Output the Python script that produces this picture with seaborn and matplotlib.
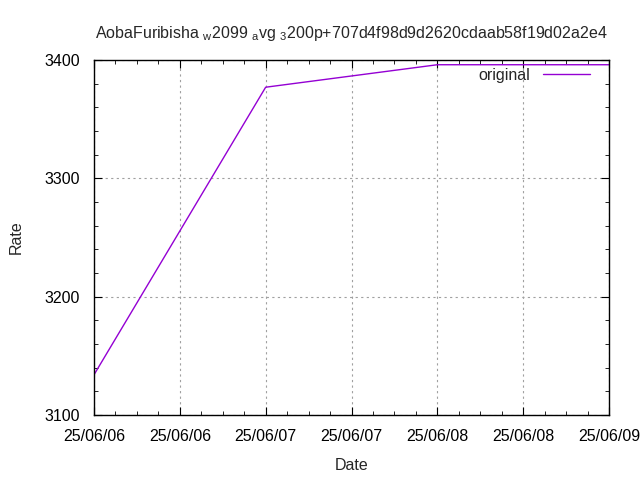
import pandas as pd
import numpy as np

import matplotlib
matplotlib.use("Agg")
import matplotlib.pyplot as plt
import matplotlib.dates as mdates
from matplotlib.ticker import MultipleLocator
import seaborn as sns

dates = ["2025-06-06", "2025-06-07", "2025-06-08", "2025-06-09"]
rates = [3134, 3377, 3396, 3396]
series_name = "original"
title = ("AobaFuribisha $_{\\mathregular{w}}$2099 $_{\\mathregular{a}}$vg "
         "$_{\\mathregular{3}}$200p+707d4f98d9d2620cdaab58f19d02a2e4")

df = pd.DataFrame({"Date": pd.to_datetime(dates), "Rate": rates, "series": series_name})

sns.set_style("ticks")
plt.rcParams["font.family"] = ["Liberation Sans", "DejaVu Sans"]
plt.rcParams["font.size"] = 11.5

fs = 11.5
fig = plt.figure(figsize=(6.4, 4.8), dpi=100)
ax = fig.add_axes([94 / 640, 1 - 415 / 480, (609 - 94) / 640, (415 - 60) / 480])

sns.lineplot(data=df, x="Date", y="Rate", hue="series", palette=["#9400d3"],
             linewidth=1, ax=ax)

ax.set_xlim(pd.Timestamp(dates[0]), pd.Timestamp(dates[-1]))
ax.set_ylim(3100, 3400)
ax.yaxis.set_major_locator(MultipleLocator(100))
ax.yaxis.set_minor_locator(MultipleLocator(20))
ax.xaxis.set_major_locator(mdates.HourLocator(byhour=[0, 12]))
ax.xaxis.set_minor_locator(mdates.HourLocator(byhour=range(0, 24, 3)))
ax.xaxis.set_major_formatter(mdates.DateFormatter("%y/%m/%d"))

ax.grid(True, which="major", color="#a0a0a0", linestyle=(0, (2, 3)), linewidth=0.8)
ax.tick_params(which="both", direction="in", top=True, right=True, color="black",
               labelsize=fs, labelcolor="black")
ax.tick_params(which="major", length=6, pad=10)
ax.tick_params(which="minor", length=3)
for s in ax.spines.values():
    s.set_visible(True)
    s.set_color("black")
    s.set_linewidth(1)

ax.set_xlabel("Date", fontsize=fs, labelpad=10)
ax.set_ylabel("Rate", fontsize=fs, labelpad=15)
ax.set_title(title, fontsize=fs, pad=16)

handles, labels = ax.get_legend_handles_labels()
ax.legend(handles, labels, loc="upper right", frameon=False, markerfirst=False,
          handlelength=2.9, handletextpad=0.8, fontsize=fs, borderaxespad=0.3,
          borderpad=0.2, bbox_to_anchor=(0.978, 1.0))

fig.savefig("out.png", dpi=100)
